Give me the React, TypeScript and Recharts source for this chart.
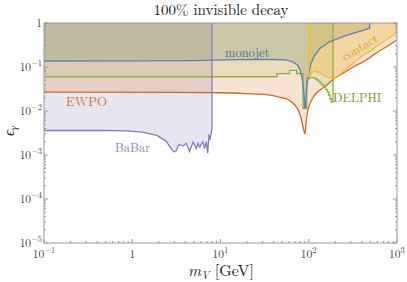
import { Area, ComposedChart, Line, XAxis, YAxis } from "recharts";

// [m_V (GeV), epsilon_gamma]
const BABAR = [
  [0.1, 3.6e-3], [0.5, 3.6e-3], [0.9, 3.55e-3], [1.3, 3.3e-3], [1.9, 2.8e-3],
  [2.4, 2.1e-3], [2.7, 1.5e-3], [2.95, 1.18e-3], [3.1, 1.2e-3], [3.4, 1.75e-3],
  [3.75, 1.6e-3], [4.1, 1.85e-3], [4.45, 1.2e-3], [4.9, 1.95e-3], [5.3, 1.4e-3],
  [5.55, 1.85e-3], [5.8, 1.5e-3], [6.3, 2.0e-3], [6.6, 1.4e-3], [6.9, 2.0e-3],
  [7.15, 1.1e-3], [7.4, 2.9e-3], [7.6, 2.2e-3], [7.8, 3.0e-3], [8.0, 4e-3], [8.0, 1],
];

const EWPO = [
  [0.1, 0.0268], [3, 0.0265], [10, 0.026], [20, 0.0248], [33, 0.0236], [45, 0.021],
  [60, 0.0175], [70, 0.0135], [76, 0.0104], [82, 0.0068], [86, 0.0044], [89, 0.0033],
  [90.8, 0.003], [92.5, 0.0045], [95, 0.0075], [100, 0.0123], [110, 0.019], [121, 0.025],
  [140, 0.032], [158, 0.038], [188, 0.052], [250, 0.074], [330, 0.104], [443, 0.142],
  [600, 0.216], [800, 0.307], [1000, 0.41],
];

const DELPHI = [
  [0.1, 0.06], [43.6, 0.071], [60.5, 0.084], [73, 0.071], [86, 0.0115], [95, 0.055],
  [104, 0.058], [112, 0.056], [120, 0.052], [127, 0.048], [134, 0.043], [141, 0.039],
  [148, 0.035], [155, 0.031], [162, 0.027], [168, 0.023], [174, 0.019], [180, 0.016],
  [188, 1],
];

const MONOJET = [
  [0.1, 0.137], [1, 0.138], [5, 0.14], [15, 0.147], [40, 0.148], [55, 0.145],
  [66, 0.13], [75, 0.11], [80, 0.084], [84, 0.055], [87.5, 0.03], [90, 0.0125],
  [91.2, 0.011], [93, 0.02], [95, 0.035], [98, 0.055], [101, 0.075], [106, 0.12],
  [116, 0.18], [133, 0.26], [170, 0.37], [267, 0.525], [412, 0.68], [490, 0.76], [490, 1],
];

const CONTACT = [
  [100, 1], [100, 0.06], [103, 0.062], [108, 0.075], [115, 0.08], [125, 0.078],
  [140, 0.07], [158, 0.06], [178, 0.055], [195, 0.056], [230, 0.07], [267, 0.09],
  [330, 0.13], [412, 0.185], [520, 0.245], [633, 0.33], [800, 0.45], [1000, 0.61],
];

const X_MAJOR = [0.1, 1, 10, 100, 1000];
const X_LABELS = [["10", "−1"], ["1", ""], ["10", "1"], ["10", "2"], ["10", "3"]];
const Y_MAJOR = [1e-5, 1e-4, 1e-3, 1e-2, 1e-1, 1];
const Y_LABELS = [["10", "−5"], ["10", "−4"], ["10", "−3"], ["10", "−2"], ["10", "−1"], ["1", ""]];

const withMinors = (majors: number[]) => {
  const out: number[] = [];
  majors.forEach((d, i) => {
    out.push(d);
    if (i < majors.length - 1) for (let k = 2; k <= 9; k++) out.push(k * d);
  });
  return out;
};
const X_TICKS = withMinors(X_MAJOR);
const Y_TICKS = withMinors(Y_MAJOR);

const rows = (pts: number[][]) => pts.map(([m, eps]) => ({ m, eps }));

const SERIES = [
  { name: "BaBar", pts: BABAR, color: "#8a7cc2", fill: "#8a7cc2", alpha: 0.2, curve: "linear" },
  { name: "EWPO", pts: EWPO, color: "#cf6c26", fill: "#e08a50", alpha: 0.25, curve: "monotoneX" },
  { name: "DELPHI", pts: DELPHI, color: "#8db23e", fill: "#b4c864", alpha: 0.2, curve: "stepAfter" },
  { name: "monojet", pts: MONOJET, color: "#5b81bf", fill: "#738969", alpha: 0.25, curve: "linear" },
  { name: "contact", pts: CONTACT, color: "#f2be2c", fill: "#f0b428", alpha: 0.28, curve: "linear" },
];

const FRAME = "#9a9a9a";
const SERIF = '"Latin Modern Roman", "Liberation Serif", serif';

const majorIndex = (v: number, majors: number[]) =>
  majors.findIndex((m) => Math.abs(v / m - 1) < 1e-6);

function TickLabel({ x, y, label, anchor }: any) {
  return (
    <text x={x} y={y} textAnchor={anchor} fill="#444" style={{ fontFamily: SERIF, fontSize: 11.5 }}>
      {label[0]}
      {label[1] && (
        <tspan dy={-5} style={{ fontSize: 8.5 }}>
          {label[1]}
        </tspan>
      )}
    </text>
  );
}

function BottomTick({ x, y, payload }: any) {
  const i = majorIndex(payload.value, X_MAJOR);
  return (
    <g>
      <line x1={x} x2={x} y1={y} y2={y - (i >= 0 ? 4 : 2)} stroke={FRAME} />
      {i >= 0 && <TickLabel x={x} y={y + 15} label={X_LABELS[i]} anchor="middle" />}
    </g>
  );
}

function TopTick({ x, y, payload }: any) {
  const i = majorIndex(payload.value, X_MAJOR);
  return <line x1={x} x2={x} y1={y} y2={y + (i >= 0 ? 4 : 2)} stroke={FRAME} />;
}

function LeftTick({ x, y, payload }: any) {
  const i = majorIndex(payload.value, Y_MAJOR);
  return (
    <g>
      <line x1={x} x2={x + (i >= 0 ? 4 : 2)} y1={y} y2={y} stroke={FRAME} />
      {i >= 0 && <TickLabel x={x - 2} y={y + 4} label={Y_LABELS[i]} anchor="end" />}
    </g>
  );
}

function RightTick({ x, y, payload }: any) {
  const i = majorIndex(payload.value, Y_MAJOR);
  return <line x1={x} x2={x - (i >= 0 ? 4 : 2)} y1={y} y2={y} stroke={FRAME} />;
}

const txt = (size: number, color: string, italic = false) => ({
  fontFamily: SERIF,
  fontSize: size,
  fill: color,
  fontStyle: italic ? "italic" : "normal",
});

export default function App() {
  return (
    <div style={{ position: "absolute", left: 0, top: 0, width: 407, height: 282 }}>
      <ComposedChart width={407} height={282} margin={{ top: 0, right: 0, bottom: 0, left: 0 }}>
        <XAxis
          dataKey="m"
          type="number"
          scale="log"
          domain={[0.1, 1000]}
          allowDataOverflow
          ticks={X_TICKS}
          interval={0}
          height={39}
          tickSize={0}
          tickMargin={0}
          tickLine={false}
          tick={<BottomTick />}
          stroke={FRAME}
        />
        <XAxis
          xAxisId="top"
          orientation="top"
          type="number"
          scale="log"
          domain={[0.1, 1000]}
          allowDataOverflow
          ticks={X_TICKS}
          interval={0}
          height={23}
          tickSize={0}
          tickMargin={0}
          tickLine={false}
          tick={<TopTick />}
          stroke={FRAME}
        />
        <YAxis
          type="number"
          scale="log"
          domain={[1e-5, 1]}
          allowDataOverflow
          ticks={Y_TICKS}
          interval={0}
          width={44}
          tickSize={0}
          tickMargin={0}
          tickLine={false}
          tick={<LeftTick />}
          stroke={FRAME}
        />
        <YAxis
          yAxisId="right"
          orientation="right"
          type="number"
          scale="log"
          domain={[1e-5, 1]}
          allowDataOverflow
          ticks={Y_TICKS}
          interval={0}
          width={10}
          tickSize={0}
          tickMargin={0}
          tickLine={false}
          tick={<RightTick />}
          stroke={FRAME}
        />
        {SERIES.map((s) => (
          <Area
            key={s.name + "-fill"}
            data={rows(s.pts)}
            dataKey="eps"
            type={s.curve as any}
            baseValue={1}
            stroke="none"
            fill={s.fill}
            fillOpacity={s.alpha}
            isAnimationActive={false}
          />
        ))}
        {SERIES.map((s) => (
          <Line
            key={s.name + "-line"}
            data={rows(s.pts)}
            dataKey="eps"
            type={s.curve as any}
            stroke={s.color}
            strokeWidth={1.3}
            dot={false}
            isAnimationActive={false}
          />
        ))}
      </ComposedChart>
      <svg
        width={407}
        height={282}
        style={{ position: "absolute", left: 0, top: 0, pointerEvents: "none" }}
      >
        <text x={221} y={15} textAnchor="middle" style={txt(15, "#222")}>
          100% invisible decay
        </text>
        <text x={221} y={276} textAnchor="middle" style={txt(16, "#222")}>
          <tspan style={{ fontStyle: "italic" }}>m</tspan>
          <tspan style={{ fontStyle: "italic", fontSize: 11 }} dy={3}>V</tspan>
          <tspan dy={-3}> [GeV]</tspan>
        </text>
        <text transform="translate(14,131) rotate(-90)" textAnchor="middle" style={txt(15, "#222", true)}>
          ϵ
          <tspan style={{ fontSize: 10 }} dy={3}>γ</tspan>
        </text>
        <text x={225} y={57} style={txt(12.5, "#4f6b94")}>monojet</text>
        <text x={66} y={106} style={txt(13, "#cf7830")}>EWPO</text>
        <text x={115} y={152} style={txt(12.5, "#9082c6")}>BaBar</text>
        <text x={333} y={102} style={txt(12.5, "#7a9a2c")}>DELPHI</text>
        <text
          transform="translate(362,51) rotate(-31)"
          textAnchor="middle"
          style={txt(12.5, "#d3a13e")}
        >
          contact
        </text>
      </svg>
    </div>
  );
}
